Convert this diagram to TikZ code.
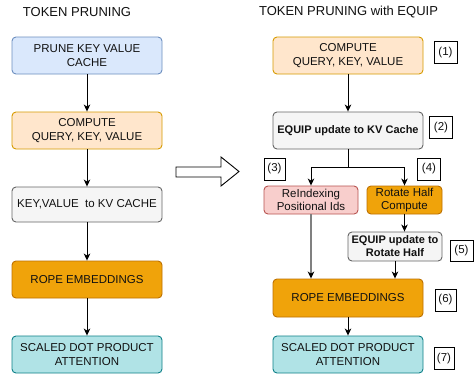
\documentclass[tikz,border=0pt]{standalone}
\usepackage{fontspec}
\setmainfont{Liberation Sans}
\usetikzlibrary{arrows.meta}

\definecolor{blueF}{HTML}{DAE8FC}\definecolor{blueD}{HTML}{6C8EBF}
\definecolor{peachF}{HTML}{FFE6CC}\definecolor{peachD}{HTML}{D79B00}
\definecolor{greyF}{HTML}{F5F5F5}\definecolor{greyD}{HTML}{666666}
\definecolor{amberF}{HTML}{F0A30A}\definecolor{amberD}{HTML}{BD7000}
\definecolor{tealF}{HTML}{B0E3E6}\definecolor{tealD}{HTML}{0E8088}
\definecolor{pinkF}{HTML}{F8CECC}\definecolor{pinkD}{HTML}{B85450}
\definecolor{ink}{HTML}{111111}

\tikzset{
  box/.style={draw, rounded corners=4pt, line width=0.9pt, align=center,
    text=ink, font=\fontsize{11.5}{14}\selectfont, inner sep=0pt,
    minimum width=150pt, minimum height=37pt},
  tag/.style={draw, line width=0.9pt, text=ink, font=\fontsize{11.5}{13}\selectfont,
    inner sep=0pt, minimum width=23pt, minimum height=22pt},
  title/.style={text=ink, font=\fontsize{13}{15}\selectfont, inner sep=0pt},
  arr/.style={draw=black, line width=0.9pt, -{Stealth[length=7pt,width=6.5pt,inset=2pt]}},
}

\begin{document}
\begin{tikzpicture}[x=1pt,y=-1pt]
\useasboundingbox[fill=white] (0,0) rectangle (474,376);

% ---- left column: token pruning
\node[title] (tl) at (77,12) {TOKEN PRUNING};
\node[box, fill=blueF, draw=blueD] (l1) at (87,55.5) {PRUNE KEY VALUE\\CACHE};
\node[box, fill=peachF, draw=peachD] (l2) at (87,130.5) {COMPUTE\\QUERY, KEY, VALUE};
\node[box, fill=greyF, draw=greyD, minimum height=35pt] (l3) at (87,204.5) {KEY,VALUE\ \ to KV CACHE};
\node[box, fill=amberF, draw=amberD] (l4) at (87,279.5) {ROPE EMBEDDINGS};
\node[box, fill=tealF, draw=tealD] (l5) at (87,354.5) {SCALED DOT PRODUCT\\ATTENTION};

\draw[arr] (l1) -- (l2);
\draw[arr] (l2) -- (l3);
\draw[arr] (l3) -- (l4);
\draw[arr] (l4) -- (l5);

% ---- hollow block arrow between the two flows
\draw[line width=0.9pt, fill=white] (176,167) -- (221,167) -- (221,157) -- (239,171.5)
  -- (221,186) -- (221,177) -- (176,177) -- cycle;

% ---- right column: token pruning with EQUIP
\node[title] (tr) at (348.5,12) {TOKEN PRUNING with EQUIP};
\node[box, fill=peachF, draw=peachD] (r1) at (348,55.5) {COMPUTE\\QUERY, KEY, VALUE};
\node[box, fill=greyF, draw=greyD, font=\fontsize{11}{14}\selectfont\bfseries] (r2) at (348,130.5) {EQUIP update to KV Cache};
\node[box, fill=pinkF, draw=pinkD, minimum width=94pt, minimum height=28pt, font=\fontsize{11.5}{13}\selectfont] (rx) at (311,200) {ReIndexing\\Positional Ids};
\node[box, fill=amberF, draw=amberD, minimum width=75pt, minimum height=28pt, font=\fontsize{11.5}{13}\selectfont] (rh) at (404.5,200) {Rotate Half\\Compute};
\node[box, fill=greyF, draw=greyD, minimum width=94pt, minimum height=29pt, font=\fontsize{11}{13}\selectfont\bfseries] (re) at (395,246.5) {EQUIP update to\\Rotate Half};
\node[box, fill=amberF, draw=amberD, minimum height=38pt] (r4) at (348,298) {ROPE EMBEDDINGS};
\node[box, fill=tealF, draw=tealD] (r5) at (348,354.5) {SCALED DOT PRODUCT\\ATTENTION};

\node[tag] (t1) at (445.5,52.5) {(1)};
\node[tag] (t2) at (441,127.5) {(2)};
\node[tag, minimum width=21pt] (t3) at (274.5,169) {(3)};
\node[tag] (t4) at (429,169) {(4)};
\node[tag, minimum height=21pt] (t5) at (461.5,251) {(5)};
\node[tag, minimum width=21pt] (t6) at (445.5,300) {(6)};
\node[tag, minimum width=20pt] (t7) at (444,358.5) {(7)};

\draw[arr] (r1) -- (r2);
\draw[line width=0.9pt] (r2.south) -- ++(0,18) coordinate (fork);
\draw[arr] (fork) -| (rx.north);
\draw[arr] (fork) -| (rh.north);
\draw[arr] (rh.south) -- (rh.south |- re.north);
\draw[arr, draw=gray, line width=2pt, -{Stealth[length=7pt,width=6.5pt,inset=2pt,color=black]}] (rx.south) -- (rx.south |- r4.north);
\draw[arr] (re.south) -- (re.south |- r4.north);
\draw[arr] (r4) -- (r5);
\end{tikzpicture}
\end{document}
